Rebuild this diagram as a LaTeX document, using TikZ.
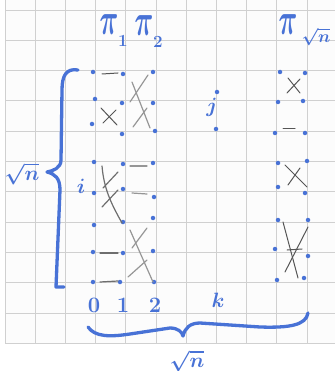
\documentclass[tikz,border=0pt]{standalone}
\usepackage{graphicx}
\definecolor{inkblue}{RGB}{72,114,214}
\definecolor{gridgray}{RGB}{208,208,208}
\definecolor{paper}{RGB}{252,252,252}
\definecolor{darkmark}{RGB}{85,85,85}
\definecolor{midmark}{RGB}{110,110,110}
\definecolor{lightmark}{RGB}{150,150,150}
\begin{document}
\begin{tikzpicture}[x=1pt,y=-1pt,
  ink/.style={draw=inkblue, line width=3.3pt, line cap=round, line join=round},
  dotnode/.style={circle, fill=inkblue, inner sep=0pt, minimum size=4.5pt},
  markd/.style={draw=darkmark, line width=1pt, line cap=round},
  markm/.style={draw=midmark, line width=1.2pt, line cap=round},
  markl/.style={draw=lightmark, line width=1.2pt, line cap=round},
  gridline/.style={draw=gridgray, line width=0.9pt},
  lab/.style={text=inkblue, inner sep=0pt, font=\fontsize{22}{22}\selectfont\bfseries\boldmath},
  biglab/.style={text=inkblue, inner sep=0pt, font=\fontsize{24}{24}\selectfont\boldmath},
  sublab/.style={text=inkblue, inner sep=0pt, font=\fontsize{17}{17}\selectfont\bfseries\boldmath}]
\useasboundingbox (0,0) rectangle (335,371);
\fill[white] (0,0) rectangle (335,371);
\fill[paper] (5,0) rectangle (335,343);
\foreach \i in {0,...,10} \draw[gridline] ({5+30.2*\i},0) -- ({5+30.2*\i},343);
\foreach \j in {0,...,11} \draw[gridline] (5,{10+30.3*\j}) -- (335,{10+30.3*\j});

% dots
\foreach \n/\x/\y in {a1/93/72, a2/95/99, a3/92/124, a4/94/162, a5/94/193, a6/94/225, a7/93/252, a8/93/282,
  b1/123/74, b2/122/103, b3/122/134, b4/123/164, b5/123/189, b6/123/222, b7/123/253, b8/120/282,
  c1/153/72, c2/153/103, c3/155/131, c4/153/163, c5/154/197, c6/153/218, c7/153/251, c8/154/282,
  j1/217/92, j2/216/129,
  p1/280/72, p2/278/102, p3/275/133, p4/278/163, p5/278/187, p6/278/220, p7/275/249, p8/277/280,
  q1/305/73, q2/303/101, q3/305/133, q4/307/161, q5/305/193, q6/308/220, q7/308/256, q8/304/278}
  \node[dotnode] (\n) at (\x,\y) {};

% marks column 0-1
\draw[markd] (102,74) -- (118,73);
\draw[markd] (101,108) -- (117,125);
\draw[markd] (116,110) -- (103,123);
\draw[markm] (102,166) .. controls (104,190) and (112,205) .. (122,223);
\draw[markm] (118,172) -- (103,188);
\draw[markm] (118,190) -- (102,207);
\draw[markm] (100,253) -- (118,253);
\draw[markm] (100,282) -- (118,281);

% marks column 1-2
\draw[markl] (132,82) -- (150,128);
\draw[markl] (148,75) -- (130,102);
\draw[markl] (147,108) -- (133,127);
\draw[markl] (130,166) -- (147,166);
\draw[markl] (132,193) -- (147,194);
\draw[markl] (130,230) -- (153,282);
\draw[markl] (147,228) -- (132,248);
\draw[markl] (147,260) -- (128,277);

% marks right column
\draw[markd] (288,78) -- (300,93);
\draw[markd] (300,79) -- (287,93);
\draw[markd] (283,129) -- (295,129);
\draw[markd] (285,165) -- (307,187);
\draw[markd] (300,168) -- (288,185);
\draw[markd] (283,222) -- (298,278);
\draw[markd] (308,227) -- (285,272);
\draw[markd] (287,250) -- (302,249);

% braces
\draw[ink] (78,70) .. controls (66,68) and (62,76) .. (62,90) -- (61,160)
  .. controls (61,168) and (53,171) .. (47,172)
  .. controls (55,174) and (60,178) .. (60,190) -- (56,287) -- (64,287);
\draw[ink] (88,327) .. controls (95,337) and (110,337) .. (130,334) -- (170,328)
  .. controls (178,328) and (182,332) .. (183,336)
  .. controls (185,328) and (190,323) .. (200,323) -- (260,327)
  .. controls (290,328) and (306,325) .. (308,313);

% labels
\node[biglab] (pi1) at (109,25) {\scalebox{1.05}[1.8]{$\pi$}};
\node[sublab] (pi1s) at (123,41) {1};
\node[biglab] (pi2) at (144,26) {\scalebox{1.05}[1.8]{$\pi$}};
\node[sublab] (pi2s) at (158,42) {2};
\node[biglab] (pin) at (288,25) {\scalebox{1.05}[1.8]{$\pi$}};
\node[sublab] (pins) at (316,37) {$\sqrt{n}$};
\node[lab] (rootl) at (22,174) {$\sqrt{n}$};
\node[lab] (il) at (81,186) {$i$};
\node[lab] (jl) at (212,107) {$j$};
\node[lab] (l0) at (94,305) {0};
\node[lab] (l1) at (123,305) {1};
\node[lab] (l2) at (155,305) {2};
\node[lab] (lk) at (218,300) {$k$};
\node[lab] (rootb) at (187,361) {$\sqrt{n}$};
\end{tikzpicture}
\end{document}
